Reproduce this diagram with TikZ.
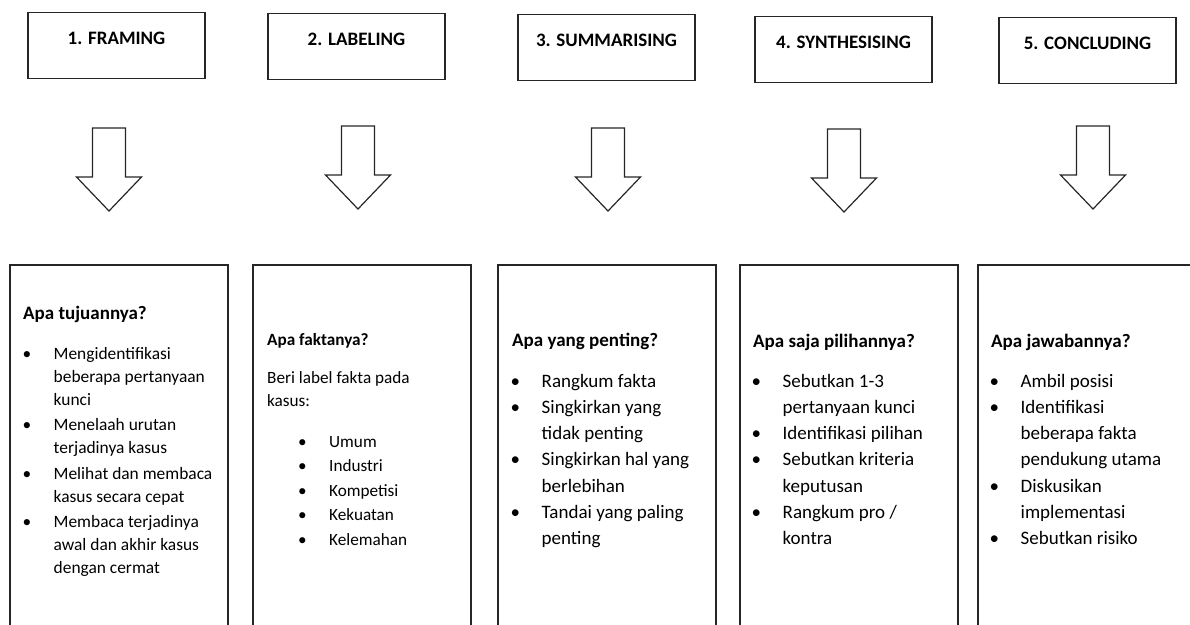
\documentclass[tikz,border=0pt]{standalone}
\usepackage{fontspec}
\setmainfont{Carlito}
\tikzset{
  stepbox/.style={draw=black!85, line width=1.4pt, minimum width=177pt, inner ysep=0pt,
    text height=32pt, text depth=34pt, anchor=north, font=\fontsize{19}{23}\selectfont\bfseries},
  infobox/.style={draw=black!85, line width=1.6pt, minimum width=218pt, minimum height=400pt,
    anchor=north west},
  blockarrow/.style={draw=black!85, line width=1.2pt},
  qhead/.style={anchor=base west, inner sep=0pt, font=\fontsize{#1}{23}\selectfont\bfseries},
  qhead/.default=19,
  qlist/.style={anchor=base west, inner sep=0pt, font=\fontsize{19}{#1}\selectfont},
}
\newcommand\bitem[1]{\par\noindent\hangindent=31pt\hangafter=1\makebox[31pt][l]{\textbullet}#1}
\begin{document}
\begin{tikzpicture}[x=1pt,y=-1pt]
  \useasboundingbox (0,0) rectangle (1190,624);
  \clip (0,0) rectangle (1190,624);
  % top row: the five steps
  \node[stepbox] (s1) at (116.5,12) {1. FRAMING};
  \node[stepbox] (s2) at (356.5,13) {2. LABELING};
  \node[stepbox] (s3) at (606.5,14) {3. SUMMARISING};
  \node[stepbox] (s4) at (843.5,16) {4. SYNTHESISING};
  \node[stepbox] (s5) at (1087.5,17) {5. CONCLUDING};

  % hollow arrows
  \foreach \x/\y in {109/128, 358/126, 608/128, 844/129, 1093/126}
    \draw[blockarrow] (\x-16.5,\y) -- (\x+16.5,\y) -- (\x+16.5,\y+49) -- (\x+32.5,\y+49)
      -- (\x,\y+83) -- (\x-32.5,\y+49) -- (\x-16.5,\y+49) -- cycle;

  % bottom row
  \node[infobox] (b1) at (9,264) {};
  \node[infobox] (b2) at (252,264) {};
  \node[infobox] (b3) at (497,264) {};
  \node[infobox] (b4) at (739,264) {};
  \node[infobox] (b5) at (977,264) {};

  \node[qhead] (h1) at (23,319) {Apa tujuannya?};
  \node[qlist=23, font=\fontsize{17.4}{23}\selectfont] (l1) at (22.5,359)
    {\begin{minipage}[t]{300pt}\setlength\parskip{2.5pt}%
    \bitem{Mengidentifikasi\\beberapa pertanyaan\\kunci}
    \bitem{Menelaah urutan\\terjadinya kasus}
    \bitem{Melihat dan membaca\\kasus secara cepat}
    \bitem{Membaca terjadinya\\awal dan akhir kasus\\dengan cermat}\end{minipage}};

  \node[qhead=17.2] (h2) at (267,345) {Apa faktanya?};
  \node[qlist=23, font=\fontsize{17.2}{23}\selectfont] (p2) at (267,383)
    {\begin{minipage}[t]{200pt}Beri label fakta pada\\kasus:\end{minipage}};
  \node[qlist=24.5, font=\fontsize{17.2}{24.5}\selectfont] (l2) at (298,447)
    {\begin{minipage}[t]{150pt}%
    \bitem{Umum}
    \bitem{Industri}
    \bitem{Kompetisi}
    \bitem{Kekuatan}
    \bitem{Kelemahan}\end{minipage}};

  \node[qhead] (h3) at (512,346) {Apa yang penting?};
  \node[qlist=26.3] (l3) at (510.5,387) {\begin{minipage}[t]{300pt}%
    \bitem{Rangkum fakta}
    \bitem{Singkirkan yang\\tidak penting}
    \bitem{Singkirkan hal yang\\berlebihan}
    \bitem{Tandai yang paling\\penting}\end{minipage}};

  \node[qhead] (h4) at (753,347) {Apa saja pilihannya?};
  \node[qlist=26.3] (l4) at (751.5,387) {\begin{minipage}[t]{300pt}%
    \bitem{Sebutkan 1-3\\pertanyaan kunci}
    \bitem{Identifikasi pilihan}
    \bitem{Sebutkan kriteria\\keputusan}
    \bitem{Rangkum pro /\\kontra}\end{minipage}};

  \node[qhead] (h5) at (991,347) {Apa jawabannya?};
  \node[qlist=26.3] (l5) at (989.5,387) {\begin{minipage}[t]{300pt}%
    \bitem{Ambil posisi}
    \bitem{Identifikasi\\beberapa fakta\\pendukung utama}
    \bitem{Diskusikan\\implementasi}
    \bitem{Sebutkan risiko}\end{minipage}};
\end{tikzpicture}
\end{document}
